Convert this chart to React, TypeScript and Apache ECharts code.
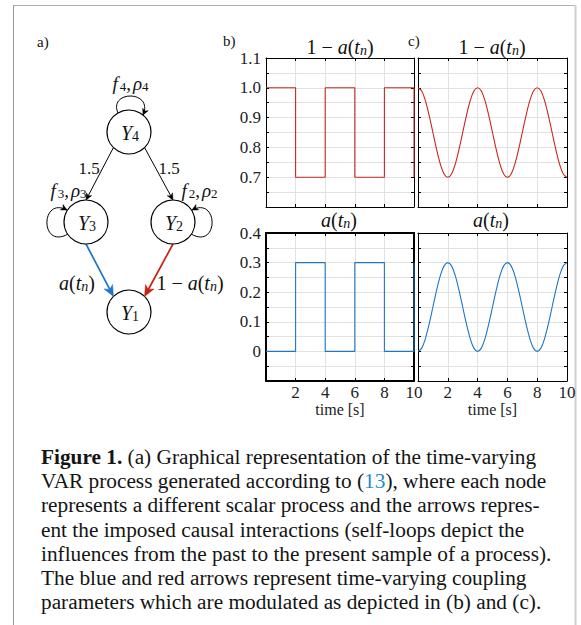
import React, { useEffect, useRef } from 'react';
import * as echarts from 'echarts';

// ---------- data ----------
const squareTimes = [0, 2, 2, 4, 4, 6, 6, 8, 8, 10, 10];
const squareA = [0, 0, 0.3, 0.3, 0, 0, 0.3, 0.3, 0, 0, 0.3];
const squareOneMinusA = [1, 1, 0.7, 0.7, 1, 1, 0.7, 0.7, 1, 1, 0.7];

const smoothTimes = [
  0, 0.25, 0.5, 0.75, 1, 1.25, 1.5, 1.75, 2, 2.25, 2.5, 2.75, 3, 3.25, 3.5, 3.75,
  4, 4.25, 4.5, 4.75, 5, 5.25, 5.5, 5.75, 6, 6.25, 6.5, 6.75, 7, 7.25, 7.5, 7.75,
  8, 8.25, 8.5, 8.75, 9, 9.25, 9.5, 9.75, 10,
];
const smoothA = [
  0, 0.011, 0.044, 0.093, 0.15, 0.207, 0.256, 0.289, 0.3, 0.289, 0.256, 0.207, 0.15, 0.093, 0.044, 0.011,
  0, 0.011, 0.044, 0.093, 0.15, 0.207, 0.256, 0.289, 0.3, 0.289, 0.256, 0.207, 0.15, 0.093, 0.044, 0.011,
  0, 0.011, 0.044, 0.093, 0.15, 0.207, 0.256, 0.289, 0.3,
];
const smoothOneMinusA = [
  1, 0.989, 0.956, 0.907, 0.85, 0.793, 0.744, 0.711, 0.7, 0.711, 0.744, 0.793, 0.85, 0.907, 0.956, 0.989,
  1, 0.989, 0.956, 0.907, 0.85, 0.793, 0.744, 0.711, 0.7, 0.711, 0.744, 0.793, 0.85, 0.907, 0.956, 0.989,
  1, 0.989, 0.956, 0.907, 0.85, 0.793, 0.744, 0.711, 0.7,
];

const xTickLabels = ['2', '4', '6', '8', '10'];
const yTickLabelsTop = ['0.7', '0.8', '0.9', '1.0', '1.1'];
const yTickLabelsBottom = ['0', '0.1', '0.2', '0.3', '0.4'];
const xAxisName = 'time [s]';

const captionLines = [
  '{b|Figure 1.} (a) Graphical representation of the time-varying',
  'VAR process generated according to ({l|13}), where each node',
  'represents a different scalar process and the arrows repres-',
  'ent the imposed causal interactions (self-loops depict the',
  'influences from the past to the present sample of a process).',
  'The blue and red arrows represent time-varying coupling',
  'parameters which are modulated as depicted in (b) and (c).',
];

// ---------- styling ----------
const FONT = "'Liberation Serif', 'Times New Roman', serif";
const RED = '#c8281e';
const BLUE = '#1f76c2';
const ARROW_RED = '#c42312';
const ARROW_BLUE = '#1b76c6';
const GRID_COLOR = '#e2e2e2';
const CAP = 21.3;

function mathRich(size: number) {
  const sub = Math.round(size * 0.7);
  const drop = Math.round(size * 0.36);
  return {
    r: { fontFamily: FONT, fontSize: size, fill: '#111' },
    i: { fontFamily: FONT, fontStyle: 'italic', fontSize: size, fill: '#111' },
    f: { fontFamily: FONT, fontStyle: 'italic', fontSize: size, fill: '#111', padding: [0, 2, 0, 1] },
    c: { fontFamily: FONT, fontSize: size, fill: '#111', padding: [0, 2, 0, 0] },
    s: { fontFamily: FONT, fontStyle: 'italic', fontSize: sub, fill: '#111', padding: [drop, 0, 0, 0] },
    d: { fontFamily: FONT, fontSize: sub, fill: '#111', padding: [drop, 0, 0, 0] },
  };
}

function mathText(x: number, y: number, text: string, size: number, align = 'center') {
  return {
    type: 'text',
    x,
    y,
    style: { text, fontFamily: FONT, fontSize: size, fill: '#111', align, verticalAlign: 'middle', rich: mathRich(size) },
  };
}

function headAt(fromX: number, fromY: number, x2: number, y2: number, color: string, hl: number, hw: number) {
  const dx = x2 - fromX, dy = y2 - fromY;
  const L = Math.hypot(dx, dy);
  const ux = dx / L, uy = dy / L;
  const px = -uy, py = ux;
  const bx = x2 - ux * hl, by = y2 - uy * hl;
  const nx = x2 - ux * hl * 0.72, ny = y2 - uy * hl * 0.72;
  return {
    type: 'polygon',
    shape: { points: [[x2, y2], [bx + px * hw, by + py * hw], [nx, ny], [bx - px * hw, by - py * hw]] },
    style: { fill: color, stroke: color, lineWidth: 0.5 },
    z: 12,
  };
}

function arrowEls(x1: number, y1: number, x2: number, y2: number, color: string, lw: number, hl: number, hw: number) {
  const dx = x2 - x1, dy = y2 - y1;
  const L = Math.hypot(dx, dy);
  const ux = dx / L, uy = dy / L;
  const nx = x2 - ux * hl * 0.72, ny = y2 - uy * hl * 0.72;
  return [
    { type: 'line', shape: { x1, y1, x2: nx, y2: ny }, style: { stroke: color, lineWidth: lw } },
    headAt(x1, y1, x2, y2, color, hl, hw),
  ];
}

function loop(sx: number, sy: number, c1x: number, c1y: number, c2x: number, c2y: number, ex: number, ey: number) {
  return [
    {
      type: 'bezierCurve',
      shape: { x1: sx, y1: sy, cpx1: c1x, cpy1: c1y, cpx2: c2x, cpy2: c2y, x2: ex, y2: ey },
      style: { stroke: '#000', lineWidth: 1, fill: 'none' },
    },
    headAt(c2x, c2y, ex, ey, '#000', 6, 3),
  ];
}

// ---------- layout of panels ----------
const grids = [
  { left: 266, top: 58, width: 148, height: 149 },
  { left: 418, top: 58, width: 149, height: 149 },
  { left: 266, top: 233, width: 148, height: 148 },
  { left: 418, top: 233, width: 149, height: 148 },
];

function isMultiple(v: number, step: number) {
  return Math.abs(v / step - Math.round(v / step)) < 1e-6;
}

function topFormatter(v: number) {
  if (!isMultiple(v, 0.1)) return '';
  const s = v.toFixed(1);
  return yTickLabelsTop.includes(s) ? s : '';
}
function bottomFormatter(v: number) {
  if (!isMultiple(v, 0.1)) return '';
  const s = Math.abs(v) < 1e-9 ? '0' : v.toFixed(1);
  return yTickLabelsBottom.includes(s) ? s : '';
}
function xFormatter(v: number) {
  const s = String(Math.round(v));
  return xTickLabels.includes(s) ? s : '';
}

const labelStyle = { fontFamily: FONT, fontSize: 17, color: '#222' };

function buildAxes() {
  const xAxis: any[] = [];
  const yAxis: any[] = [];
  grids.forEach((_, gi) => {
    const bottomRow = gi >= 2;
    const leftCol = gi % 2 === 0;
    const lw = gi === 2 ? 2 : 1;
    const line = { show: true, onZero: false, lineStyle: { color: '#000', width: lw } };
    const tick = { show: true, inside: true, length: 3, lineStyle: { color: '#000', width: 1 } };
    xAxis.push({
      type: 'value', gridIndex: gi, min: 0, max: 10, interval: 2, position: 'bottom',
      axisLine: line, axisTick: tick,
      axisLabel: { show: bottomRow, formatter: xFormatter, margin: 3, showMinLabel: true, showMaxLabel: true, ...labelStyle },
      splitLine: { show: true, showMinLine: false, showMaxLine: false, lineStyle: { color: GRID_COLOR, width: 1 } },
      name: bottomRow ? xAxisName : '', nameLocation: 'middle', nameGap: 20,
      nameTextStyle: { fontFamily: FONT, fontSize: 16, color: '#222' },
    });
    xAxis.push({
      type: 'value', gridIndex: gi, min: 0, max: 10, interval: 2, position: 'top',
      axisLine: line, axisTick: tick, axisLabel: { show: false }, splitLine: { show: false },
    });
    const yr = gi < 2 ? { min: 0.6, max: 1.1 } : { min: -0.1, max: 0.4 };
    yAxis.push({
      type: 'value', gridIndex: gi, ...yr, interval: 0.05, position: 'left',
      axisLine: line, axisTick: tick,
      axisLabel: {
        show: leftCol, formatter: gi < 2 ? topFormatter : bottomFormatter, margin: 5,
        showMinLabel: true, showMaxLabel: true, ...labelStyle,
      },
      splitLine: { show: true, showMinLine: false, showMaxLine: false, lineStyle: { color: GRID_COLOR, width: 1 } },
    });
    yAxis.push({
      type: 'value', gridIndex: gi, ...yr, interval: 0.05, position: 'right',
      axisLine: line, axisTick: tick, axisLabel: { show: false }, splitLine: { show: false },
    });
  });
  return { xAxis, yAxis };
}

function zip(xs: number[], ys: number[]) {
  return xs.map((x, i) => [x, ys[i]]);
}

function buildSeries() {
  const defs = [
    { x: squareTimes, y: squareOneMinusA, color: RED, smooth: false },
    { x: smoothTimes, y: smoothOneMinusA, color: RED, smooth: 0.35 },
    { x: squareTimes, y: squareA, color: BLUE, smooth: false },
    { x: smoothTimes, y: smoothA, color: BLUE, smooth: 0.35 },
  ];
  return defs.map((d, gi) => ({
    type: 'line',
    xAxisIndex: gi * 2,
    yAxisIndex: gi * 2,
    data: zip(d.x, d.y),
    showSymbol: false,
    symbol: 'none',
    smooth: d.smooth,
    lineStyle: { color: d.color, width: 1.1 },
    z: 3,
  }));
}

// ---------- panel (a) diagram ----------
const R = 22;
const nodes = {
  Y4: { x: 129, y: 132 },
  Y3: { x: 86, y: 222 },
  Y2: { x: 173, y: 222 },
  Y1: { x: 129, y: 312 },
};

function buildDiagram() {
  const d = R * Math.SQRT1_2;
  const els: any[] = [];
  const { Y4, Y3, Y2, Y1 } = nodes;
  // edges
  els.push(...arrowEls(Y4.x - d, Y4.y + d, Y3.x, Y3.y - R, '#000', 1, 6.5, 3));
  els.push(...arrowEls(Y4.x + d, Y4.y + d, Y2.x, Y2.y - R, '#000', 1, 6.5, 3));
  els.push(...arrowEls(Y3.x, Y3.y + R, Y1.x - d, Y1.y - d, ARROW_BLUE, 1.7, 11, 4.8));
  els.push(...arrowEls(Y2.x, Y2.y + R, Y1.x + d, Y1.y - d, ARROW_RED, 1.7, 11, 4.8));
  // self loops
  els.push(...loop(118, 113, 108, 90, 154, 90, 143, 115));
  els.push(...loop(68, 234, 40, 250, 40, 196, 67, 210));
  els.push(...loop(191, 234, 219, 250, 219, 196, 192, 210));
  // nodes
  Object.entries(nodes).forEach(([name, p]) => {
    els.push({ type: 'circle', shape: { cx: p.x, cy: p.y, r: R }, style: { fill: '#fff', stroke: '#000', lineWidth: 1.2 }, z: 10 });
    els.push({ ...mathText(p.x + 1, p.y + 1, `{i|Y}{d|${name.slice(1)}}`, 20), z: 11 });
  });
  // labels
  els.push(mathText(130, 83, '{f|f}{d|4}{c|,}{i|ρ}{d|4}', 19));
  els.push(mathText(68, 190, '{f|f}{d|3}{c|,}{i|ρ}{d|3}', 19));
  els.push(mathText(199, 190, '{f|f}{d|2}{c|,}{i|ρ}{d|2}', 19));
  els.push(mathText(89, 168, '{r|1.5}', 17));
  els.push(mathText(169, 168, '{r|1.5}', 17));
  els.push(mathText(77, 283, '{i|a}{r|(}{i|t}{s|n}{r|)}', 20));
  els.push(mathText(190, 283, '{r|1 − }{i|a}{r|(}{i|t}{s|n}{r|)}', 20));
  return els;
}

function buildGraphic() {
  const els: any[] = [];
  // frame
  els.push({ type: 'line', shape: { x1: 13.5, y1: 5.5, x2: 575, y2: 5.5 }, style: { stroke: '#b0b0b0', lineWidth: 1 } });
  els.push({ type: 'line', shape: { x1: 13.5, y1: 5, x2: 13.5, y2: 625 }, style: { stroke: '#9a9a9a', lineWidth: 1 } });
  els.push({ type: 'line', shape: { x1: 575.5, y1: 5, x2: 575.5, y2: 625 }, style: { stroke: '#cfcfcf', lineWidth: 2 } });
  // panel letters
  els.push({ type: 'text', x: 37, y: 42, style: { text: 'a)', fontFamily: FONT, fontSize: 15, fill: '#111', verticalAlign: 'middle' } });
  els.push({ type: 'text', x: 223, y: 41, style: { text: 'b)', fontFamily: FONT, fontSize: 15, fill: '#111', verticalAlign: 'middle' } });
  els.push({ type: 'text', x: 408, y: 41, style: { text: 'c)', fontFamily: FONT, fontSize: 15, fill: '#111', verticalAlign: 'middle' } });
  // plot titles
  const t1 = '{r|1 − }{i|a}{r|(}{i|t}{s|n}{r|)}';
  const t2 = '{i|a}{r|(}{i|t}{s|n}{r|)}';
  els.push(mathText(340, 47, t1, 20));
  els.push(mathText(492, 47, t1, 20));
  els.push(mathText(339, 220, t2, 20));
  els.push(mathText(491, 220, t2, 20));
  // diagram
  els.push(...buildDiagram());
  // caption
  captionLines.forEach((line, k) => {
    els.push({
      type: 'text',
      x: 41,
      y: 457 + k * 24.2,
      style: {
        text: line,
        fontFamily: FONT,
        fontSize: CAP,
        fill: '#141414',
        align: 'left',
        verticalAlign: 'middle',
        rich: {
          b: { fontFamily: FONT, fontSize: CAP, fontWeight: 'bold', fill: '#141414' },
          l: { fontFamily: FONT, fontSize: CAP, fill: '#2a88c4' },
        },
      },
    });
  });
  return els;
}

export default function App() {
  const ref = useRef<HTMLDivElement>(null);
  useEffect(() => {
    if (!ref.current) return;
    const chart = echarts.init(ref.current, undefined, { renderer: 'svg' });
    const { xAxis, yAxis } = buildAxes();
    chart.setOption({
      animation: false,
      backgroundColor: '#ffffff',
      grid: grids.map((g) => ({ ...g, containLabel: false })),
      xAxis,
      yAxis,
      series: buildSeries(),
      graphic: { elements: buildGraphic() },
    });
    return () => chart.dispose();
  }, []);
  return (
    <div
      ref={ref}
      style={{ position: 'absolute', left: 0, top: 0, width: 581, height: 625, background: '#fff' }}
    />
  );
}
